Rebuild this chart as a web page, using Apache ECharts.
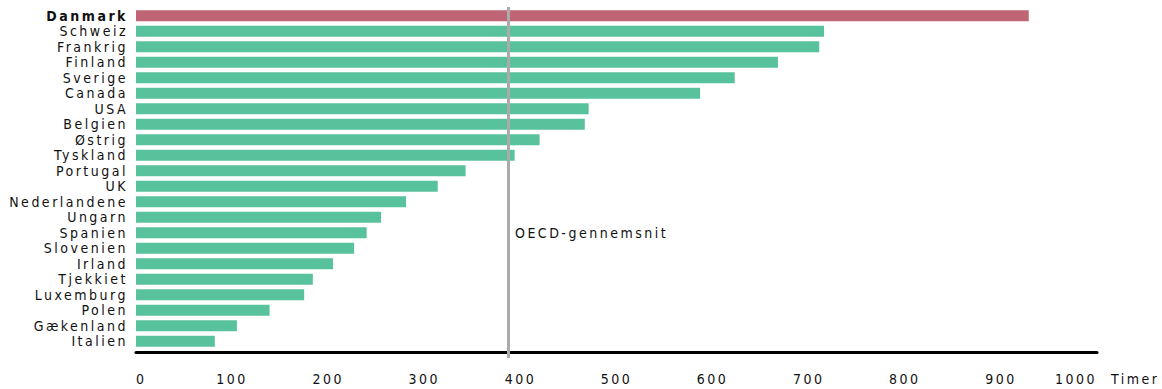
<!DOCTYPE html>
<html>
<head>
<meta charset="utf-8">
<script src="https://cdn.jsdelivr.net/npm/echarts@6/dist/echarts.min.js"></script>
<style>
  html, body { margin: 0; padding: 0; background: #fff; }
  #chart { width: 1162px; height: 389px; }
  /* spaced-out condensed lettering like the original */
  #chart text { letter-spacing: 2.5px; font-stretch: condensed !important; }
</style>
</head>
<body>
<div id="chart"></div>
<script>
  // hours per country
  var countries = ['Danmark', 'Schweiz', 'Frankrig', 'Finland', 'Sverige', 'Canada', 'USA', 'Belgien',
    'Østrig', 'Tyskland', 'Portugal', 'UK', 'Nederlandene', 'Ungarn', 'Spanien', 'Slovenien',
    'Irland', 'Tjekkiet', 'Luxemburg', 'Polen', 'Gækenland', 'Italien'];
  var hours = [929, 716, 711, 668, 623, 587, 471, 467, 420, 394, 343, 314, 281, 255, 240, 227,
    205, 184, 175, 139, 105, 82];
  var oecdAverage = 387;
  var highlight = 'Danmark';
  var unit = 'Timer';

  var font = 'Liberation Sans Narrow, DejaVu Sans Condensed, sans-serif';
  var green = '#58C29D', red = '#C06575';

  var chart = echarts.init(document.getElementById('chart'), null, {renderer: 'svg'});

  chart.setOption({
    animation: false,
    grid: {left: 136, right: 65, top: 8, height: 341, containLabel: false},
    xAxis: {
      type: 'value',
      min: 0, max: 1000, interval: 100,
      offset: 3,
      axisLine: {show: true, lineStyle: {color: '#000', width: 3}},
      axisTick: {show: false},
      splitLine: {show: false},
      axisLabel: {
        color: '#111', fontFamily: font, fontSize: 14, margin: 20,
        alignMinLabel: 'left', alignMaxLabel: 'right',
        formatter: function (v) { return String(v); }
      }
    },
    yAxis: {
      type: 'category',
      inverse: true,
      data: countries,
      axisLine: {show: false},
      axisTick: {show: false},
      axisLabel: {
        interval: 0,
        color: '#111', fontFamily: font, fontSize: 14, lineHeight: 14, margin: 8,
        formatter: function (v) { return v === highlight ? '{b|' + v + '}' : v; },
        rich: {b: {fontWeight: 'bold', fontFamily: font, fontSize: 14, lineHeight: 14, color: '#111'}}
      }
    },
    series: [{
      type: 'bar',
      barWidth: 11,
      data: hours.map(function (h, i) {
        return {value: h, itemStyle: {color: countries[i] === highlight ? red : green}};
      }),
      markLine: {
        silent: true,
        symbol: 'none',
        label: {show: false},
        lineStyle: {color: '#ABABAB', width: 3, type: 'solid'},
        data: [[{xAxis: oecdAverage, y: 7}, {xAxis: oecdAverage, y: 358}]]
      }
    }],
    graphic: [{
      type: 'text',
      left: 515, top: 226,
      style: {text: 'OECD-gennemsnit', fill: '#111', font: '14px ' + font}
    }, {
      type: 'text',
      left: 1111, top: 372,
      style: {text: unit, fill: '#111', font: '14px ' + font}
    }]
  });
</script>
</body>
</html>
